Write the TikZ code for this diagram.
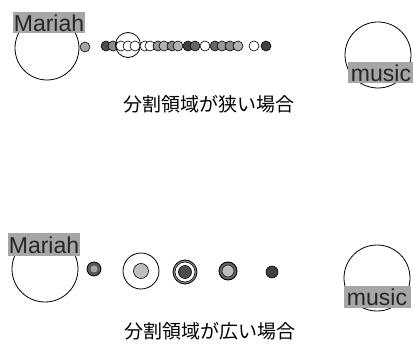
\documentclass[tikz,border=0pt]{standalone}
\usepackage{fontspec}
\setmainfont{Liberation Sans}
\newfontfamily\jp{Noto Sans CJK JP}
\begin{document}
\begin{tikzpicture}[x=1pt,y=-1pt,
  ring/.style={draw=black,line width=0.8pt},
  lbl/.style={draw=none,fill=black!35,inner sep=0pt,font=\fontsize{23}{23}\selectfont,text=black!85},
  dot/.style={circle,draw=black,line width=0.6pt,minimum size=10pt,inner sep=0pt},
  captxt/.style={font=\jp\fontsize{19}{19}\selectfont}]
\useasboundingbox (0,0) rectangle (413,350);
% ---------- top: narrow ----------
\node[circle,ring,minimum size=64pt,inner sep=0pt] (mc1) at (47,48) {};
\node[lbl,minimum width=72pt,minimum height=21pt] (ml1) at (49,23) {Mariah};
\node[circle,ring,minimum size=66pt,inner sep=0pt] (uc1) at (378,55) {};
\node[lbl,minimum width=66pt,minimum height=21pt] (ul1) at (381,73) {music};
\node[dot,fill=black!35] (d0) at (85,47) {};
\node[dot,fill=black!70] (d1) at (106,46) {};
\node[dot,fill=black!45] (d2) at (113,46) {};
\node[circle,ring,minimum size=25pt,inner sep=0pt] (big1) at (128,45) {};
\node[dot,fill=white] (d3) at (121,46) {};
\node[dot,fill=white] (d4) at (128,46) {};
\node[dot,fill=white] (d5) at (135,46) {};
\node[dot,fill=white] (d6) at (145,46) {};
\node[dot,fill=white] (d7) at (150,46) {};
\node[dot,fill=black!40] (d8) at (158,46) {};
\node[dot,fill=black!30] (d9) at (164,46) {};
\node[dot,fill=black!45] (d10) at (172,46) {};
\node[dot,fill=black!30] (d11) at (178,46) {};
\node[dot,fill=black!75] (d12) at (188,46) {};
\node[dot,fill=black!60] (d13) at (195,46) {};
\node[dot,fill=white] (d14) at (205,46) {};
\node[dot,fill=black!60] (d15) at (215,46) {};
\node[dot,fill=black!40] (d16) at (222,46) {};
\node[dot,fill=black!45] (d17) at (230,46) {};
\node[dot,fill=black!30] (d18) at (238,46) {};
\node[dot,fill=white] (d19) at (254,46) {};
\node[dot,fill=black!75] (d20) at (266,46) {};
\node[captxt] (t1) at (209,104) {分割領域が狭い場合};
% ---------- bottom: wide ----------
\node[circle,ring,minimum size=66pt,inner sep=0pt] (mc2) at (45,269) {};
\node[lbl,minimum width=72pt,minimum height=23pt] (ml2) at (44,245) {Mariah};
\node[circle,ring,minimum size=66pt,inner sep=0pt] (uc2) at (377,278) {};
\node[lbl,minimum width=67pt,minimum height=22pt] (ul2) at (377,297) {music};
\node[circle,draw=black,line width=0.8pt,fill=black!65,minimum size=14pt,inner sep=0pt] (e1) at (94,269) {};
\node[circle,fill=black!35,minimum size=7pt,inner sep=0pt] (e1i) at (94,269) {};
\node[circle,ring,minimum size=36pt,inner sep=0pt] (big2) at (141,271) {};
\node[circle,draw=black,line width=0.6pt,fill=black!25,minimum size=15pt,inner sep=0pt] (e2) at (141,271) {};
\node[circle,draw=black,line width=0.8pt,fill=black!45,minimum size=24pt,inner sep=0pt] (e3o) at (185,272) {};
\node[circle,draw=black,line width=0.6pt,fill=white,minimum size=20pt,inner sep=0pt] (e3m) at (185,272) {};
\node[circle,draw=black,line width=0.6pt,fill=black!70,minimum size=13pt,inner sep=0pt] (e3) at (185,272) {};
\node[circle,draw=black,line width=0.9pt,fill=black!60,minimum size=18pt,inner sep=0pt] (e4o) at (228,271) {};
\node[circle,draw=black,line width=0.5pt,fill=black!25,minimum size=12pt,inner sep=0pt] (e4) at (228,271) {};
\node[circle,draw=black,line width=0.6pt,fill=black!75,minimum size=12pt,inner sep=0pt] (e5) at (272,272) {};
\node[captxt] (t2) at (210,331) {分割領域が広い場合};
\end{tikzpicture}
\end{document}
